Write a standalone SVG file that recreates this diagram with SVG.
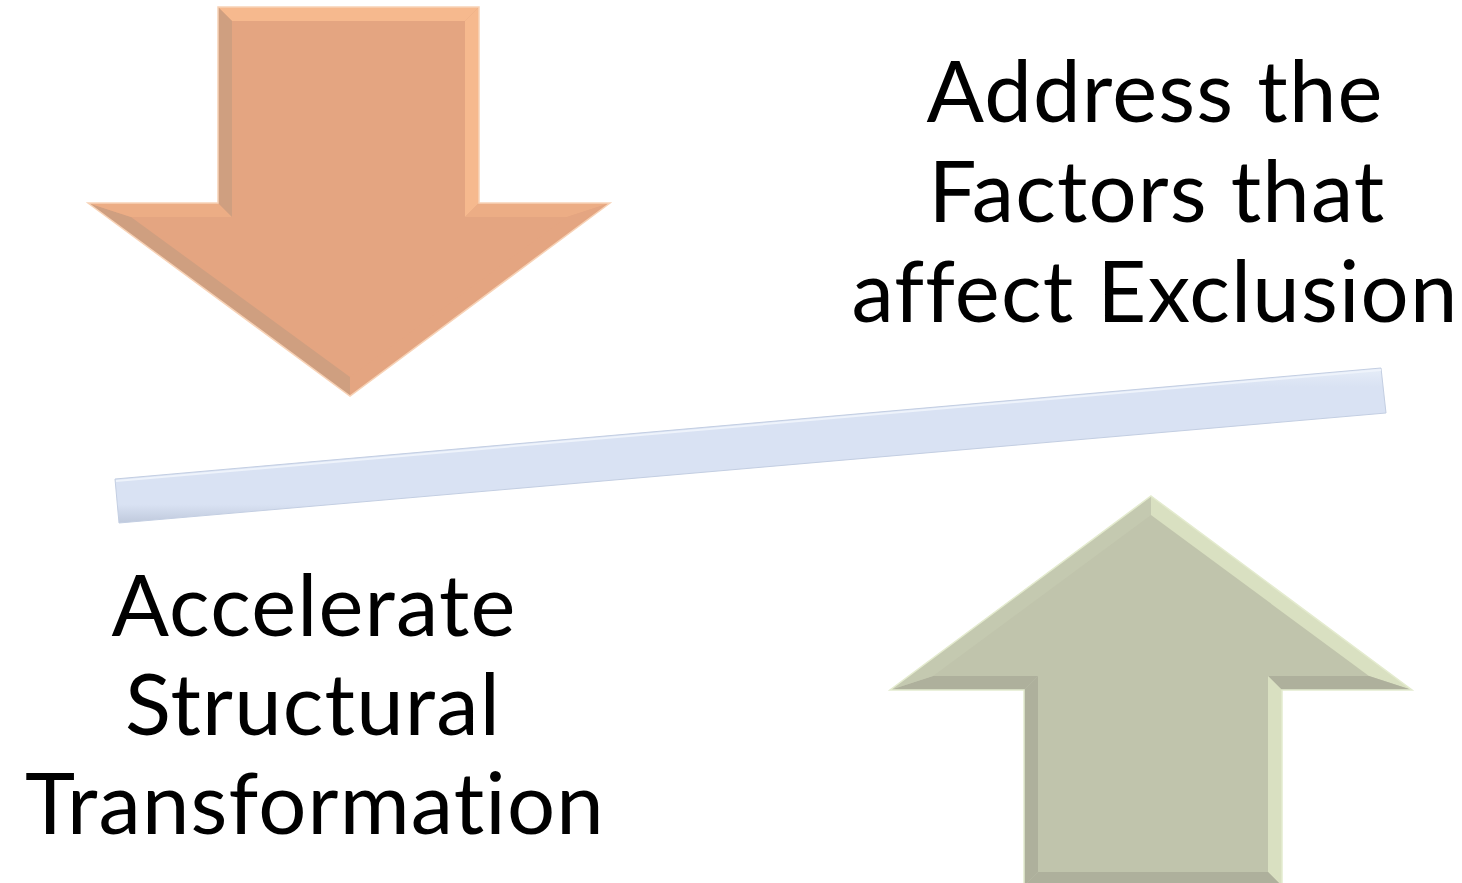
<svg xmlns="http://www.w3.org/2000/svg" width="1462" height="883" viewBox="0 0 1462 883">
  <style>
    .lbl { font-family: "Lato", "Open Sans", "Liberation Sans", sans-serif; font-size: 85px; fill: #000000; text-anchor: middle; letter-spacing: 1.2px; font-variant-ligatures: none; font-feature-settings: "liga" 0, "clig" 0; }
    .o-face { fill: #E4A581; }
    .o-light { fill: #F6B98E; }
    .o-mid { fill: #ECAD85; }
    .o-dark { fill: #CF9F80; }
    .g-face { fill: #C0C4AC; }
    .g-light { fill: #D9E0C1; }
    .g-mid { fill: #C4C9B0; }
    .g-dark { fill: #AEB09C; }
  </style>
  <defs>
    <linearGradient id="barGrad" x1="0" y1="0" x2="0" y2="1">
      <stop offset="0" stop-color="#E6EDF8"/>
      <stop offset="0.12" stop-color="#D9E2F3"/>
      <stop offset="0.88" stop-color="#D9E2F3"/>
      <stop offset="1" stop-color="#BFC9DC"/>
    </linearGradient>
  </defs>
  <rect x="0" y="0" width="1462" height="883" fill="#FFFFFF"/>

  <g id="down-arrow">
    <polygon class="o-face" points="218,7 479,7 479,203 610,203 350,396 88,203 218,203"/>
    <polygon class="o-light" points="218,7 479,7 465,21 232,21"/>
    <polygon class="o-light" points="479,7 479,203 465,217 465,21"/>
    <polygon class="o-mid" points="479,203 610,203 567,217 465,217"/>
    <polygon class="o-face" points="610,203 350,396 350,377 567,217"/>
    <polygon class="o-dark" points="350,396 88,203 131,217 350,377"/>
    <polygon class="o-mid" points="88,203 218,203 232,217 131,217"/>
    <polygon class="o-dark" points="218,203 218,7 232,21 232,217"/>
    <polygon fill="none" stroke="#F7D2B6" stroke-width="1.5" points="218,7 479,7 479,203 610,203 350,396 88,203 218,203"/>
  </g>

  <g id="up-arrow">
    <polygon class="g-face" points="1151,496 1412,690 1282,690 1282,886 1024,886 1024,690 890,690"/>
    <polygon class="g-light" points="1151,496 1412,690 1369,676 1151,515"/>
    <polygon class="g-dark" points="1412,690 1282,690 1268,676 1369,676"/>
    <polygon class="g-light" points="1282,690 1282,886 1268,872 1268,676"/>
    <polygon class="g-dark" points="1282,886 1024,886 1038,872 1268,872"/>
    <polygon class="g-dark" points="1024,886 1024,690 1038,676 1038,872"/>
    <polygon class="g-dark" points="1024,690 890,690 933,676 1038,676"/>
    <polygon class="g-mid" points="890,690 1151,496 1151,515 933,676"/>
    <polygon fill="none" stroke="#E4EBCF" stroke-width="1.5" points="1151,496 1412,690 1282,690 1282,886 1024,886 1024,690 890,690"/>
  </g>

  <g id="balance-bar">
    <polygon fill="url(#barGrad)" stroke="#C3CEE2" stroke-width="1" points="115,479 1381,368 1386,413 119,523"/>
    <polyline fill="none" stroke="#EEF3FB" stroke-width="2" points="116,481 1381,370"/>
  </g>

  <g id="label-right">
    <text class="lbl" x="1155" y="122">Address the</text>
    <text class="lbl" x="1157" y="222">Factors that</text>
    <text class="lbl" x="1155" y="322">affect Exclusion</text>
  </g>

  <g id="label-left">
    <text class="lbl" x="314" y="636">Accelerate</text>
    <text class="lbl" x="313" y="735">Structural</text>
    <text class="lbl" x="315" y="834">Transformation</text>
  </g>

  <g id="connectors"></g>
</svg>
